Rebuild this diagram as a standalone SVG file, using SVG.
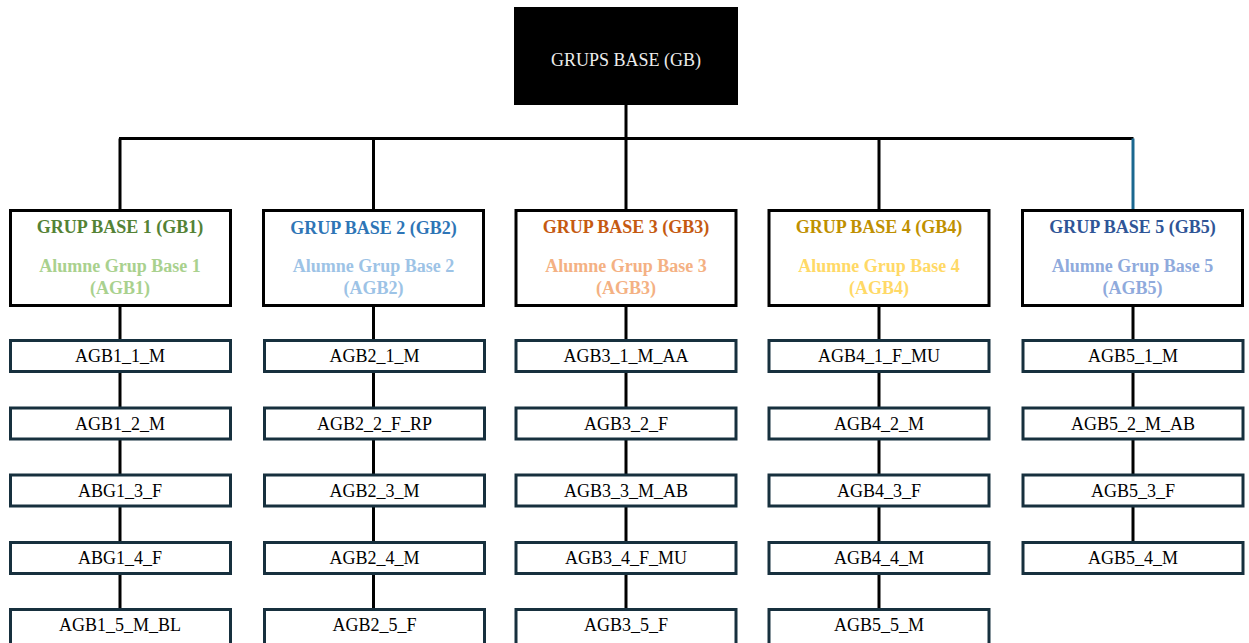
<svg xmlns="http://www.w3.org/2000/svg" width="1249" height="643" viewBox="0 0 1249 643">
<style>
.gb{fill:#fff;stroke:#000;stroke-width:3}
.ch{fill:#fff;stroke:#17303e;stroke-width:3}
.t{font-family:"Liberation Serif","Times New Roman",serif;font-size:18px;text-anchor:middle}
.b{font-weight:bold}
.ln{stroke:#000;stroke-width:3;fill:none}
</style>
<rect width="1249" height="643" fill="#fff"/>
<g id="connectors">
<path class="ln" d="M626 105V138.5M119 138.5H1133.5M120 138.5V210M373.5 138.5V210M626 138.5V210M879 138.5V210"/>
<path d="M1133 138.5V210" stroke="#1b6890" stroke-width="3" fill="none"/>
<path class="ln" d="M120 306V340M120 372V408M120 440V475M120 507V542M120 575V609"/>
<path class="ln" d="M373.5 306V340M373.5 372V408M373.5 440V475M373.5 507V542M373.5 575V609"/>
<path class="ln" d="M626 306V340M626 372V408M626 440V475M626 507V542M626 575V609"/>
<path class="ln" d="M879 306V340M879 372V408M879 440V475M879 507V542M879 575V609"/>
<path class="ln" d="M1133 306V340M1133 372V408M1133 440V475M1133 507V542"/>
</g>
<g id="root"><rect x="514" y="7" width="224" height="98" fill="#000"/><text class="t" x="626" y="66" fill="#ececec">GRUPS BASE (GB)</text></g>
<g id="gb1"><rect class="gb" x="10.5" y="210.5" width="220" height="95"/><text class="t b" x="120" y="233" fill="#548235">GRUP BASE 1 (GB1)</text><text class="t b" x="120" y="272" fill="#a9d18e">Alumne Grup Base 1</text><text class="t b" x="120" y="294" fill="#a9d18e">(AGB1)</text></g>
<g id="gb2"><rect class="gb" x="263.5" y="210.5" width="220" height="95"/><text class="t b" x="373.5" y="234" fill="#2e75b6">GRUP BASE 2 (GB2)</text><text class="t b" x="373.5" y="272" fill="#9dc3e6">Alumne Grup Base 2</text><text class="t b" x="373.5" y="294" fill="#9dc3e6">(AGB2)</text></g>
<g id="gb3"><rect class="gb" x="516" y="210.5" width="220" height="95"/><text class="t b" x="626" y="233" fill="#c55a11">GRUP BASE 3 (GB3)</text><text class="t b" x="626" y="272" fill="#f4b183">Alumne Grup Base 3</text><text class="t b" x="626" y="294" fill="#f4b183">(AGB3)</text></g>
<g id="gb4"><rect class="gb" x="769" y="210.5" width="220" height="95"/><text class="t b" x="879" y="233" fill="#bf9000">GRUP BASE 4 (GB4)</text><text class="t b" x="879" y="272" fill="#ffd966">Alumne Grup Base 4</text><text class="t b" x="879" y="294" fill="#ffd966">(AGB4)</text></g>
<g id="gb5"><rect class="gb" x="1022.5" y="210.5" width="220" height="95"/><text class="t b" x="1132.5" y="233" fill="#2f5597">GRUP BASE 5 (GB5)</text><text class="t b" x="1132.5" y="272" fill="#8faadc">Alumne Grup Base 5</text><text class="t b" x="1132.5" y="294" fill="#8faadc">(AGB5)</text></g>
<g id="c1_1"><rect class="ch" x="10.5" y="340.5" width="220" height="31"/><text class="t" x="120" y="362">AGB1_1_M</text></g>
<g id="c1_2"><rect class="ch" x="10.5" y="408" width="220" height="31"/><text class="t" x="120" y="430">AGB1_2_M</text></g>
<g id="c1_3"><rect class="ch" x="10.5" y="475" width="220" height="31"/><text class="t" x="120" y="497">ABG1_3_F</text></g>
<g id="c1_4"><rect class="ch" x="10.5" y="542.5" width="220" height="31"/><text class="t" x="120" y="564">ABG1_4_F</text></g>
<g id="c1_5"><rect class="ch" x="10.5" y="609.5" width="220" height="40"/><text class="t" x="120" y="631">AGB1_5_M_BL</text></g>
<g id="c2_1"><rect class="ch" x="264.5" y="340.5" width="220" height="31"/><text class="t" x="374.5" y="362">AGB2_1_M</text></g>
<g id="c2_2"><rect class="ch" x="264.5" y="408" width="220" height="31"/><text class="t" x="374.5" y="430">AGB2_2_F_RP</text></g>
<g id="c2_3"><rect class="ch" x="264.5" y="475" width="220" height="31"/><text class="t" x="374.5" y="497">AGB2_3_M</text></g>
<g id="c2_4"><rect class="ch" x="264.5" y="542.5" width="220" height="31"/><text class="t" x="374.5" y="564">AGB2_4_M</text></g>
<g id="c2_5"><rect class="ch" x="264.5" y="609.5" width="220" height="40"/><text class="t" x="374.5" y="631">AGB2_5_F</text></g>
<g id="c3_1"><rect class="ch" x="516" y="340.5" width="220" height="31"/><text class="t" x="626" y="362">AGB3_1_M_AA</text></g>
<g id="c3_2"><rect class="ch" x="516" y="408" width="220" height="31"/><text class="t" x="626" y="430">AGB3_2_F</text></g>
<g id="c3_3"><rect class="ch" x="516" y="475" width="220" height="31"/><text class="t" x="626" y="497">AGB3_3_M_AB</text></g>
<g id="c3_4"><rect class="ch" x="516" y="542.5" width="220" height="31"/><text class="t" x="626" y="564">AGB3_4_F_MU</text></g>
<g id="c3_5"><rect class="ch" x="516" y="609.5" width="220" height="40"/><text class="t" x="626" y="631">AGB3_5_F</text></g>
<g id="c4_1"><rect class="ch" x="769" y="340.5" width="220" height="31"/><text class="t" x="879" y="362">AGB4_1_F_MU</text></g>
<g id="c4_2"><rect class="ch" x="769" y="408" width="220" height="31"/><text class="t" x="879" y="430">AGB4_2_M</text></g>
<g id="c4_3"><rect class="ch" x="769" y="475" width="220" height="31"/><text class="t" x="879" y="497">AGB4_3_F</text></g>
<g id="c4_4"><rect class="ch" x="769" y="542.5" width="220" height="31"/><text class="t" x="879" y="564">AGB4_4_M</text></g>
<g id="c4_5"><rect class="ch" x="769" y="609.5" width="220" height="40"/><text class="t" x="879" y="631">AGB5_5_M</text></g>
<g id="c5_1"><rect class="ch" x="1023" y="340.5" width="220" height="31"/><text class="t" x="1133" y="362">AGB5_1_M</text></g>
<g id="c5_2"><rect class="ch" x="1023" y="408" width="220" height="31"/><text class="t" x="1133" y="430">AGB5_2_M_AB</text></g>
<g id="c5_3"><rect class="ch" x="1023" y="475" width="220" height="31"/><text class="t" x="1133" y="497">AGB5_3_F</text></g>
<g id="c5_4"><rect class="ch" x="1023" y="542.5" width="220" height="31"/><text class="t" x="1133" y="564">AGB5_4_M</text></g>
</svg>
